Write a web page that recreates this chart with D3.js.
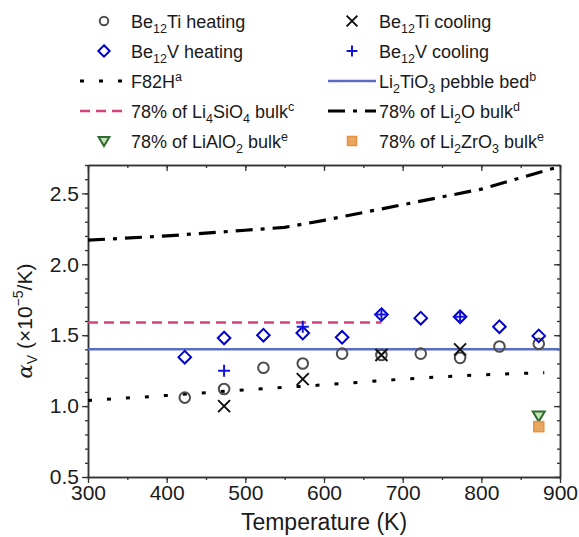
<!DOCTYPE html>
<html>
<head>
<meta charset="utf-8">
<script src="https://cdn.jsdelivr.net/npm/d3@7"></script>
<style>
  html, body { margin: 0; padding: 0; background: #fff; }
  svg { display: block; font-family: "Liberation Sans", Arial, sans-serif; }
</style>
</head>
<body>
<div id="chart"></div>
<script>
// Measured temperatures (K)
const temps = [423, 473, 523, 573, 623, 673, 723, 773, 823, 873];
const coolTemps = [473, 573, 673, 773];

// Volumetric thermal expansion (x1e-5 /K)
const be12TiHeating = [1.06, 1.12, 1.27, 1.30, 1.37, 1.36, 1.37, 1.34, 1.42, 1.44];
const be12TiCooling = [1.00, 1.19, 1.36, 1.40];
const be12VHeating = [1.345, 1.48, 1.50, 1.515, 1.485, 1.645, 1.62, 1.63, 1.56, 1.495];
const be12VCooling = [1.25, 1.56, 1.645, 1.63];

// Reference curves
const f82hT = [300, 400, 500, 600, 700, 800, 880];
const f82hV = [1.04, 1.075, 1.115, 1.15, 1.19, 1.22, 1.235];
const li2tio3T = [300, 900];
const li2tio3V = [1.40, 1.40];
const li4sio4T = [300, 673];
const li4sio4V = [1.59, 1.59];
const li2oT = [300, 400, 500, 550, 600, 700, 800, 850, 900];
const li2oV = [2.17, 2.20, 2.24, 2.26, 2.31, 2.42, 2.53, 2.61, 2.69];
const lialo2T = [873], lialo2V = [0.93];
const li2zro3T = [873], li2zro3V = [0.855];

const xTicks = [300, 400, 500, 600, 700, 800, 900];
const yTicks = [0.5, 1.0, 1.5, 2.0, 2.5];

const W = 579, H = 537;
const plotL = 88, plotR = 560, plotT = 165, plotB = 477;

const svg = d3.select("#chart").append("svg").attr("width", W).attr("height", H);

const x = d3.scaleLinear().domain([300, 900]).range([plotL, plotR]);
const y = d3.scaleLinear().domain([0.5, 2.7]).range([plotB, plotT]);

const zip = (a, b) => a.map((t, i) => [t, b[i]]);
const axisColor = "#333";

// clip
svg.append("clipPath").attr("id", "clip")
  .append("rect").attr("x", plotL).attr("y", plotT).attr("width", plotR - plotL).attr("height", plotB - plotT);

// Axes (left/bottom outward ticks, top/right inward ticks)
const minorX = d3.range(300, 901, 50);
const minorY = d3.range(5, 28).map(v => v / 10);

function styleAxis(g) {
  g.select(".domain").attr("stroke", axisColor).attr("stroke-width", 1.5);
  g.selectAll(".tick line").attr("stroke", axisColor).attr("stroke-width", 1.3);
  g.selectAll(".tick text").attr("fill", "#1a1a1a").attr("font-size", 21)
    .attr("font-family", "Liberation Sans, Arial, sans-serif");
}

svg.append("g").attr("transform", `translate(0,${plotB})`)
  .call(d3.axisBottom(x).tickValues(minorX).tickSize(3).tickFormat("").tickSizeOuter(0))
  .call(styleAxis);
svg.append("g").attr("transform", `translate(0,${plotB})`)
  .call(d3.axisBottom(x).tickValues(xTicks).tickSize(6).tickSizeOuter(0).tickPadding(2).tickFormat(d3.format("d")))
  .call(styleAxis);

svg.append("g").attr("transform", `translate(${plotL},0)`)
  .call(d3.axisLeft(y).tickValues(minorY).tickSize(3).tickFormat("").tickSizeOuter(0))
  .call(styleAxis);
svg.append("g").attr("transform", `translate(${plotL},0)`)
  .call(d3.axisLeft(y).tickValues(yTicks).tickSize(6).tickSizeOuter(0).tickPadding(3).tickFormat(d3.format(".1f")))
  .call(styleAxis);

svg.append("g").attr("transform", `translate(0,${plotT})`)
  .call(d3.axisBottom(x).tickValues(minorX).tickSize(3).tickFormat("").tickSizeOuter(0))
  .call(styleAxis);
svg.append("g").attr("transform", `translate(0,${plotT})`)
  .call(d3.axisBottom(x).tickValues(xTicks).tickSize(6).tickFormat("").tickSizeOuter(0))
  .call(styleAxis);

svg.append("g").attr("transform", `translate(${plotR},0)`)
  .call(d3.axisLeft(y).tickValues(minorY).tickSize(3).tickFormat("").tickSizeOuter(0))
  .call(styleAxis);
svg.append("g").attr("transform", `translate(${plotR},0)`)
  .call(d3.axisLeft(y).tickValues(yTicks).tickSize(6).tickFormat("").tickSizeOuter(0))
  .call(styleAxis);

// Axis titles
svg.append("text")
  .attr("x", (plotL + plotR) / 2).attr("y", 530)
  .attr("text-anchor", "middle").attr("font-size", 23).attr("fill", "#1a1a1a")
  .text("Temperature (K)");

const yt = svg.append("text")
  .attr("transform", `translate(32,${(plotT + plotB) / 2}) rotate(-90)`)
  .attr("text-anchor", "middle").attr("font-size", 21).attr("fill", "#1a1a1a");
yt.append("tspan").attr("font-style", "italic").attr("font-family", "DejaVu Serif, serif").text("α");
yt.append("tspan").attr("font-size", 14).attr("dy", 5).text("V");
yt.append("tspan").attr("dy", -5).text(" (×10");
yt.append("tspan").attr("font-size", 14).attr("dy", -9).text("−5");
yt.append("tspan").attr("dy", 9).text("/K)");

// Lines
const plot = svg.append("g").attr("clip-path", "url(#clip)");
const line = d3.line().x(d => x(d[0])).y(d => y(d[1]));
const smooth = d3.line().x(d => x(d[0])).y(d => y(d[1])).curve(d3.curveMonotoneX);

const styles = {
  f82h: { stroke: "#000", width: 3, dash: "4,15" },
  li2tio3: { stroke: "#5a6cc4", width: 2.5, dash: null },
  li4sio4: { stroke: "#d6407c", width: 2.5, dash: "10,6" },
  li2o: { stroke: "#000", width: 3.2, dash: "17,8,4,8" }
};

function drawLine(data, s, gen) {
  plot.append("path").datum(data)
    .attr("fill", "none").attr("stroke", s.stroke).attr("stroke-width", s.width)
    .attr("stroke-dasharray", s.dash).attr("d", gen);
}
drawLine(zip(li2tio3T, li2tio3V), styles.li2tio3, line);
drawLine(zip(li4sio4T, li4sio4V), styles.li4sio4, line);
drawLine(zip(f82hT, f82hV), styles.f82h, smooth);
drawLine(zip(li2oT, li2oV), styles.li2o, line);

// Markers
const markers = {
  circle: (g, s) => g.append("circle").attr("r", 5.3 * s).attr("fill", "none").attr("stroke", "#4d4d4d").attr("stroke-width", 2),
  cross: (g, s) => g.append("path").attr("d", `M${-6*s},${-6*s}L${6*s},${6*s}M${-6*s},${6*s}L${6*s},${-6*s}`).attr("stroke", "#111").attr("stroke-width", 2),
  diamond: (g, s) => g.append("path").attr("d", `M0,${-6.3*s}L${6.3*s},0L0,${6.3*s}L${-6.3*s},0Z`).attr("fill", "none").attr("stroke", "#0000c8").attr("stroke-width", 2),
  plus: (g, s) => g.append("path").attr("d", `M${-6*s},0H${6*s}M0,${-6*s}V${6*s}`).attr("stroke", "#1414d8").attr("stroke-width", 2),
  triangle: (g, s) => g.append("path").attr("d", `M${-6*s},${-4.5*s}H${6*s}L0,${5.5*s}Z`).attr("fill", "#c6e3b8").attr("stroke", "#2f6b2f").attr("stroke-width", 2),
  square: (g, s) => g.append("rect").attr("x", -5*s).attr("y", -5*s).attr("width", 10*s).attr("height", 10*s).attr("fill", "#e9a862").attr("stroke", "#e8903e").attr("stroke-width", 1.5)
};

function drawPoints(ts, vs, kind) {
  zip(ts, vs).forEach(d => {
    const g = svg.append("g").attr("transform", `translate(${x(d[0])},${y(d[1])})`);
    markers[kind](g, 1);
  });
}
drawPoints(temps, be12TiHeating, "circle");
drawPoints(coolTemps, be12TiCooling, "cross");
drawPoints(temps, be12VHeating, "diamond");
drawPoints(coolTemps, be12VCooling, "plus");
drawPoints(lialo2T, lialo2V, "triangle");
drawPoints(li2zro3T, li2zro3V, "square");

// Legend
const legendItems = [
  { col: 0, row: 0, kind: "circle", label: [["Be"], ["12", "sub"], ["Ti heating"]] },
  { col: 1, row: 0, kind: "cross", label: [["Be"], ["12", "sub"], ["Ti cooling"]] },
  { col: 0, row: 1, kind: "diamond", label: [["Be"], ["12", "sub"], ["V heating"]] },
  { col: 1, row: 1, kind: "plus", label: [["Be"], ["12", "sub"], ["V cooling"]] },
  { col: 0, row: 2, line: "f82h", label: [["F82H"], ["a", "sup"]] },
  { col: 1, row: 2, line: "li2tio3", label: [["Li"], ["2", "sub"], ["TiO"], ["3", "sub"], [" pebble bed"], ["b", "sup"]] },
  { col: 0, row: 3, line: "li4sio4", label: [["78% of Li"], ["4", "sub"], ["SiO"], ["4", "sub"], [" bulk"], ["c", "sup"]] },
  { col: 1, row: 3, line: "li2o", label: [["78% of Li"], ["2", "sub"], ["O bulk"], ["d", "sup"]] },
  { col: 0, row: 4, kind: "triangle", label: [["78% of LiAlO"], ["2", "sub"], [" bulk"], ["e", "sup"]] },
  { col: 1, row: 4, kind: "square", label: [["78% of Li"], ["2", "sub"], ["ZrO"], ["3", "sub"], [" bulk"], ["e", "sup"]] }
];
const colX = [80, 328], rowY = [21, 51, 81, 111, 141], sampleW = 48, textGap = 3;

legendItems.forEach(it => {
  const x0 = colX[it.col], yy = rowY[it.row];
  const g = svg.append("g").attr("transform", `translate(${x0},${yy})`);
  if (it.line) {
    const s = styles[it.line];
    g.append("line").attr("x1", 0).attr("x2", sampleW).attr("y1", 0).attr("y2", 0)
      .attr("stroke", s.stroke).attr("stroke-width", s.width).attr("stroke-dasharray", s.dash);
  } else {
    const m = g.append("g").attr("transform", `translate(${sampleW / 2},0)`);
    markers[it.kind](m, it.kind === "circle" ? 0.8 : 0.9);
  }
  const t = g.append("text").attr("x", sampleW + textGap).attr("y", 6.5)
    .attr("font-size", 18).attr("fill", "#1a1a1a");
  let shift = 0;
  it.label.forEach(([txt, kind]) => {
    const target = kind === "sub" ? 5 : kind === "sup" ? -7 : 0;
    const ts = t.append("tspan").attr("dy", target - shift).text(txt);
    if (kind) ts.attr("font-size", 12.5);
    shift = target;
  });
});
</script>
</body>
</html>
